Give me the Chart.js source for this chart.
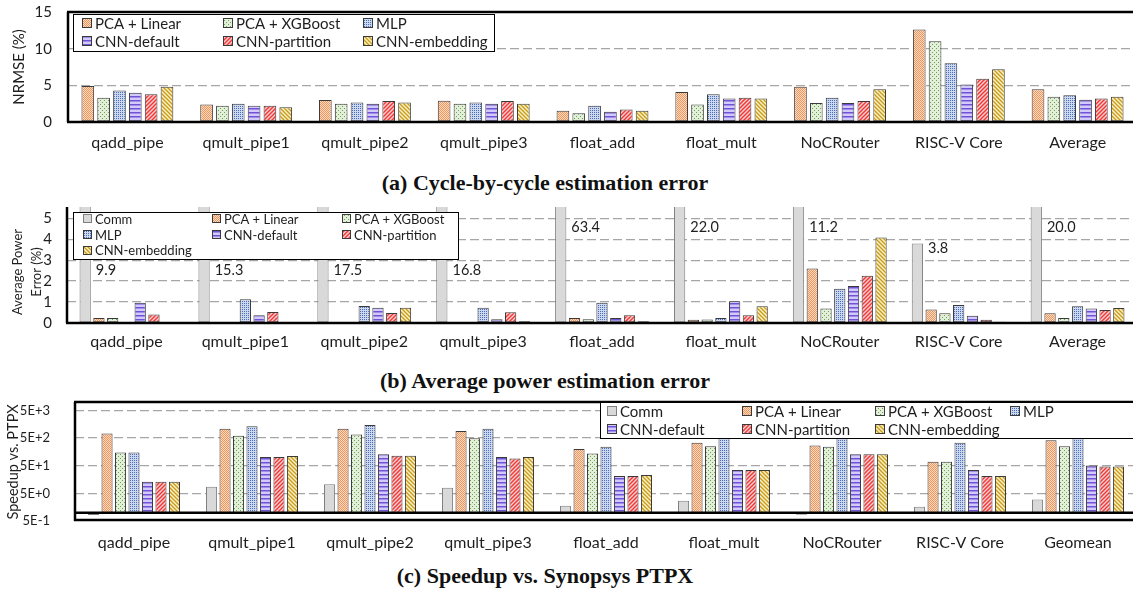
<!DOCTYPE html>
<html><head><meta charset="utf-8">
<script src="https://cdn.jsdelivr.net/npm/chart.js@4.4.1/dist/chart.umd.min.js"></script>
<style>
html,body{margin:0;padding:0;background:#fff;overflow:hidden;width:1133px;height:596px;position:relative;}
.wrap{position:absolute;left:0;}
canvas{display:block;}
.cap{position:absolute;left:0;width:1090px;text-align:center;font-family:'Liberation Serif','DejaVu Serif',serif;font-weight:bold;font-size:22px;line-height:24px;color:#111;white-space:nowrap;}
</style></head><body>
<div class="wrap" style="top:0px"><canvas id="ca" width="1140" height="160"></canvas></div>
<div class="cap" style="top:171px">(a) Cycle-by-cycle estimation error</div>
<div class="wrap" style="top:195px"><canvas id="cb" width="1140" height="165"></canvas></div>
<div class="cap" style="top:369px">(b) Average power estimation error</div>
<div class="wrap" style="top:390px"><canvas id="cc" width="1140" height="170"></canvas></div>
<div class="cap" style="top:564px">(c) Speedup vs. Synopsys PTPX</div>
<script>
// ---------------- DATA ----------------
const categoriesAB = ['qadd_pipe','qmult_pipe1','qmult_pipe2','qmult_pipe3','float_add','float_mult','NoCRouter','RISC-V Core','Average'];
const categoriesC  = ['qadd_pipe','qmult_pipe1','qmult_pipe2','qmult_pipe3','float_add','float_mult','NoCRouter','RISC-V Core','Geomean'];
const seriesNames = {comm:'Comm', linear:'PCA + Linear', xgb:'PCA + XGBoost', mlp:'MLP', cnnd:'CNN-default', cnnp:'CNN-partition', cnne:'CNN-embedding'};

// (a) NRMSE (%)
const linearA  = [4.9, 2.4, 3.0, 2.9, 1.55, 4.1, 4.8, 12.6, 4.45];
const xgbA     = [3.3, 2.2, 2.5, 2.5, 1.2, 2.4, 2.6, 11.0, 3.45];
const mlpA     = [4.3, 2.5, 2.65, 2.65, 2.2, 3.8, 3.3, 8.0, 3.65];
const cnnDefA  = [4.0, 2.2, 2.5, 2.5, 1.4, 3.2, 2.6, 5.1, 3.05];
const cnnPartA = [3.8, 2.2, 2.85, 2.85, 1.7, 3.3, 2.85, 5.9, 3.2];
const cnnEmbA  = [4.8, 2.0, 2.65, 2.5, 1.55, 3.2, 4.45, 7.2, 3.45];
const yTicksA  = [0, 5, 10, 15];

// (b) Average power error (%)
const commB    = [9.9, 15.3, 17.5, 16.8, 63.4, 22.0, 11.2, 3.8, 20.0];
const linearB  = [0.24, 0.02, 0.02, 0.02, 0.24, 0.16, 2.6, 0.64, 0.46];
const xgbB     = [0.24, 0.02, 0.02, 0.02, 0.18, 0.17, 0.69, 0.46, 0.24];
const mlpB     = [0.03, 1.13, 0.81, 0.73, 0.97, 0.24, 1.64, 0.86, 0.8];
const cnnDefB  = [0.97, 0.37, 0.73, 0.18, 0.24, 1.04, 1.77, 0.35, 0.69];
const cnnPartB = [0.41, 0.53, 0.48, 0.51, 0.37, 0.37, 2.26, 0.16, 0.62];
const cnnEmbB  = [0.03, 0.03, 0.73, 0.08, 0.08, 0.8, 4.08, 0.06, 0.72];
const yTicksB  = [0, 1, 2, 3, 4, 5];

// (c) Speedup vs. PTPX (log)
const commC    = [0.82, 8.7, 10.6, 7.9, 1.78, 2.7, 0.84, 1.65, 3.0];
const linearC  = [733, 1070, 1070, 890, 200, 338, 270, 69, 418];
const xgbC     = [151, 600, 674, 485, 138, 250, 240, 69, 250];
const mlpC     = [151, 1316, 1470, 1070, 240, 520, 620, 338, 560];
const cnnDefC  = [13.2, 102, 128, 102, 21, 34.6, 128, 34.6, 51];
const cnnPartC = [13.2, 102, 114, 91, 21, 34.6, 128, 21, 47];
const cnnEmbC  = [13.2, 112, 114, 102, 23, 34.6, 128, 21, 47];
const yTickValsC   = [0.5, 5, 50, 500, 5000];
const yTickLabelsC = ['5E-1', '5E+0', '5E+1', '5E+2', '5E+3'];
const speedupBase = 1;

// ---------------- STYLE ----------------
const FONT = 'Lato, "Open Sans", sans-serif';
const TXT = '#1e1e1e';
function tile(w,h,draw){const c=document.createElement('canvas');c.width=w;c.height=h;const g=c.getContext('2d');draw(g,w,h);return c.getContext('2d').createPattern(c,'repeat');}
const STYLE = {
  comm:{fill:'#D9D9D9', border:'#7F7F7F'},
  linear:{fill:tile(2,2,g=>{g.fillStyle='#FCDCC4';g.fillRect(0,0,2,2);g.fillStyle='#F2955A';g.fillRect(0,0,1,1);g.fillRect(1,1,1,1);}), border:'#3a3a3a'},
  xgb:{fill:tile(4,4,g=>{g.fillStyle='#E2EFD9';g.fillRect(0,0,4,4);g.fillStyle='#6E9F52';g.fillRect(0,0,1,1);g.fillRect(2,2,1,1);}), border:'#3a3a3a'},
  mlp:{fill:tile(2,2,g=>{g.fillStyle='#CCD8F0';g.fillRect(0,0,2,2);g.fillStyle='#4B6CB8';g.fillRect(0,0,1,1);}), border:'#3a3a3a'},
  cnnd:{fill:tile(4,4,g=>{g.fillStyle='#D2CAFA';g.fillRect(0,0,4,4);g.fillStyle='#7052D6';g.fillRect(0,0,4,1.5);}), border:'#3a3a3a'},
  cnnp:{fill:tile(4,4,g=>{g.fillStyle='#FFD2D2';g.fillRect(0,0,4,4);g.strokeStyle='#EE3A3A';g.lineWidth=1.5;g.beginPath();g.moveTo(-1,5);g.lineTo(5,-1);g.moveTo(-1,1);g.lineTo(1,-1);g.moveTo(3,5);g.lineTo(5,3);g.stroke();}), border:'#3a3a3a'},
  cnne:{fill:tile(4,4,g=>{g.fillStyle='#FFF0C2';g.fillRect(0,0,4,4);g.strokeStyle='#C49A1C';g.lineWidth=1.3;g.beginPath();g.moveTo(-1,-1);g.lineTo(5,5);g.moveTo(3,-1);g.lineTo(5,1);g.moveTo(-1,3);g.lineTo(1,5);g.stroke();}), border:'#3a3a3a'}
};
function ds(key, data){return {label:seriesNames[key], data, backgroundColor:STYLE[key].fill, borderColor:STYLE[key].border, borderWidth:1, borderSkipped:false};}

function drawLegend(ctx, L){
  ctx.save();
  ctx.fillStyle='#fff'; ctx.fillRect(L.x,L.y,L.w,L.h);
  ctx.strokeStyle='#000'; ctx.lineWidth=1; ctx.strokeRect(L.x+0.5,L.y+0.5,L.w,L.h);
  ctx.font=`${L.size}px ${FONT}`; ctx.textBaseline='middle'; ctx.textAlign='left';
  L.items.forEach((key,i)=>{
    const col=i%L.cols.length, row=Math.floor(i/L.cols.length);
    const sx=L.cols[col], sy=L.rows[row];
    ctx.fillStyle=STYLE[key].fill; ctx.fillRect(sx, Math.round(sy-L.sw/2), L.sw, L.sw);
    ctx.strokeStyle=STYLE[key].border; ctx.lineWidth=1; ctx.strokeRect(sx+0.5, Math.round(sy-L.sw/2)+0.5, L.sw-1, L.sw-1);
    ctx.fillStyle=TXT; ctx.fillText(seriesNames[key], sx+L.sw+3, sy+1);
  });
  ctx.restore();
}
function hline(ctx,x1,x2,y,w){ctx.beginPath();ctx.lineWidth=w;ctx.strokeStyle='#000';ctx.moveTo(x1,y);ctx.lineTo(x2,y);ctx.stroke();}
function vline(ctx,x,y1,y2,w){ctx.beginPath();ctx.lineWidth=w;ctx.strokeStyle='#000';ctx.moveTo(x,y1);ctx.lineTo(x,y2);ctx.stroke();}
function vtitle(ctx,text,x,y,size){ctx.save();ctx.translate(x,y);ctx.rotate(-Math.PI/2);ctx.font=`${size}px ${FONT}`;ctx.fillStyle=TXT;ctx.textAlign='center';ctx.textBaseline='middle';ctx.fillText(text,0,0);ctx.restore();}

Chart.defaults.font.family = FONT;
const common = {responsive:false, animation:false, devicePixelRatio:1, events:[],
  plugins:{legend:{display:false}, tooltip:{enabled:false}}};
const xAxis = (pad,h,size)=>({grid:{display:false, drawTicks:false}, border:{display:false},
  ticks:{font:{family:FONT,size:size}, color:TXT, padding:pad, maxRotation:0, autoSkip:false}, afterFit(s){s.height=h;}});
const dashedGrid = (hideVals)=>({drawTicks:false, lineWidth:1.3, color:c=>hideVals.includes(c.tick.value)?'rgba(0,0,0,0)':'#A6A6A6'});
const fitY = w => function(s){ s.width=w; s.paddingTop=0; s.paddingBottom=0; };

// ---------------- (a) ----------------
new Chart(document.getElementById('ca'), {
  type:'bar',
  data:{labels:categoriesAB, datasets:[ds('linear',linearA),ds('xgb',xgbA),ds('mlp',mlpA),ds('cnnd',cnnDefA),ds('cnnp',cnnPartA),ds('cnne',cnnEmbA)]},
  options:{...common,
    layout:{padding:{top:12,right:3,left:0,bottom:0}},
    datasets:{bar:{categoryPercentage:0.8, barPercentage:0.8}},
    scales:{
      x:xAxis(11,38,16),
      y:{min:0,max:15, afterBuildTicks(s){s.ticks=yTicksA.map(v=>({value:v}));},
         ticks:{font:{family:FONT,size:15}, color:TXT, padding:16, autoSkip:false},
         grid:dashedGrid([0,15]), border:{display:false, dash:[9,4]}, afterFit:fitY(68)}
    }},
  plugins:[{id:'fa', afterDatasetsDraw(chart){
    const ctx=chart.ctx, a=chart.chartArea, y=chart.scales.y;
    ctx.save();
    hline(ctx,a.left-1,a.right,a.top,2.5);
    hline(ctx,a.left-1,a.right,y.getPixelForValue(0),2.5);
    vline(ctx,a.left,a.top,y.getPixelForValue(0),2.5);
    ctx.restore();
    drawLegend(ctx,{x:73,y:14,w:421,h:37,size:15,sw:10,cols:[82,223,363],rows:[23,41],items:['linear','xgb','mlp','cnnd','cnnp','cnne']});
    vtitle(ctx,'NRMSE (%)',19,67,15);
  }}]
});

// ---------------- (b) ----------------
const yMaxB = 5.54;
new Chart(document.getElementById('cb'), {
  type:'bar',
  data:{labels:categoriesAB, datasets:[ds('comm',commB),ds('linear',linearB),ds('xgb',xgbB),ds('mlp',mlpB),ds('cnnd',cnnDefB),ds('cnnp',cnnPartB),ds('cnne',cnnEmbB)]},
  options:{...common,
    layout:{padding:{top:12,right:3,left:0,bottom:0}},
    datasets:{bar:{categoryPercentage:0.81, barPercentage:0.82}},
    scales:{
      x:xAxis(9,37,16),
      y:{min:0,max:yMaxB, afterBuildTicks(s){s.ticks=yTicksB.map(v=>({value:v}));},
         ticks:{font:{family:FONT,size:15}, color:TXT, padding:15, autoSkip:false},
         grid:dashedGrid([0]), border:{display:false, dash:[9,4]}, afterFit:fitY(67)}
    }},
  plugins:[{id:'fb', afterDatasetsDraw(chart){
    const ctx=chart.ctx, a=chart.chartArea, y=chart.scales.y;
    const y0=y.getPixelForValue(0);
    ctx.save();
    hline(ctx,a.left-1,a.right,y0,2.5);
    vline(ctx,a.left,a.top,y0,2.5);
    const L={x:73,y:17,w:385,h:47,size:13,sw:9,cols:[83,212,342],rows:[23.5,39.5,55],items:['comm','linear','xgb','mlp','cnnd','cnnp','cnne']};
    const meta=chart.getDatasetMeta(0);
    ctx.font=`14.5px ${FONT}`; ctx.fillStyle=TXT; ctx.textAlign='left'; ctx.textBaseline='middle';
    commB.forEach((v,i)=>{
      const bar=meta.data[i];
      const lvl = v < yMaxB ? v-0.22 : (bar.x < L.x+L.w ? 2.52 : 4.58);
      ctx.fillText(v.toFixed(1), bar.x+bar.width/2+5, y.getPixelForValue(lvl));
    });
    ctx.restore();
    drawLegend(ctx,L);
    vtitle(ctx,'Average Power',18,77,13);
    vtitle(ctx,'Error (%)',37,77,13);
  }}]
});

// ---------------- (c) ----------------
const fl = arr => arr.map(v=>[speedupBase, v]);
new Chart(document.getElementById('cc'), {
  type:'bar',
  data:{labels:categoriesC, datasets:[ds('comm',fl(commC)),ds('linear',fl(linearC)),ds('xgb',fl(xgbC)),ds('mlp',fl(mlpC)),ds('cnnd',fl(cnnDefC)),ds('cnnp',fl(cnnPartC)),ds('cnne',fl(cnnEmbC))]},
  options:{...common,
    layout:{padding:{top:12,right:3,left:0,bottom:0}},
    datasets:{bar:{categoryPercentage:0.8, barPercentage:0.82}},
    scales:{
      x:xAxis(12,39,16),
      y:{type:'logarithmic', min:0.5, max:10000,
         afterBuildTicks(s){s.ticks=yTickValsC.map(v=>({value:v}));},
         ticks:{font:{family:FONT,size:13}, color:TXT, padding:25, autoSkip:false, callback:(v,i)=>yTickLabelsC[i]},
         grid:dashedGrid([0.5]), border:{display:false, dash:[9,4]}, afterFit:fitY(75)}
    }},
  plugins:[{id:'fc', afterDatasetsDraw(chart){
    const ctx=chart.ctx, a=chart.chartArea, y=chart.scales.y;
    ctx.save();
    hline(ctx,a.left-1,a.right,a.top,2.5);
    hline(ctx,a.left-1,a.right,a.bottom-1,2.5);
    hline(ctx,a.left,a.right,y.getPixelForValue(speedupBase),2.5);
    vline(ctx,a.left,a.top,a.bottom,2.5);
    ctx.restore();
    drawLegend(ctx,{x:600,y:12,w:545,h:36,size:15,sw:10,cols:[607,742,875,1010],rows:[21,39],items:['comm','linear','xgb','mlp','cnnd','cnnp','cnne']});
    vtitle(ctx,'Speedup vs. PTPX',13,72,14.5);
  }}]
});
</script>
</body></html>
